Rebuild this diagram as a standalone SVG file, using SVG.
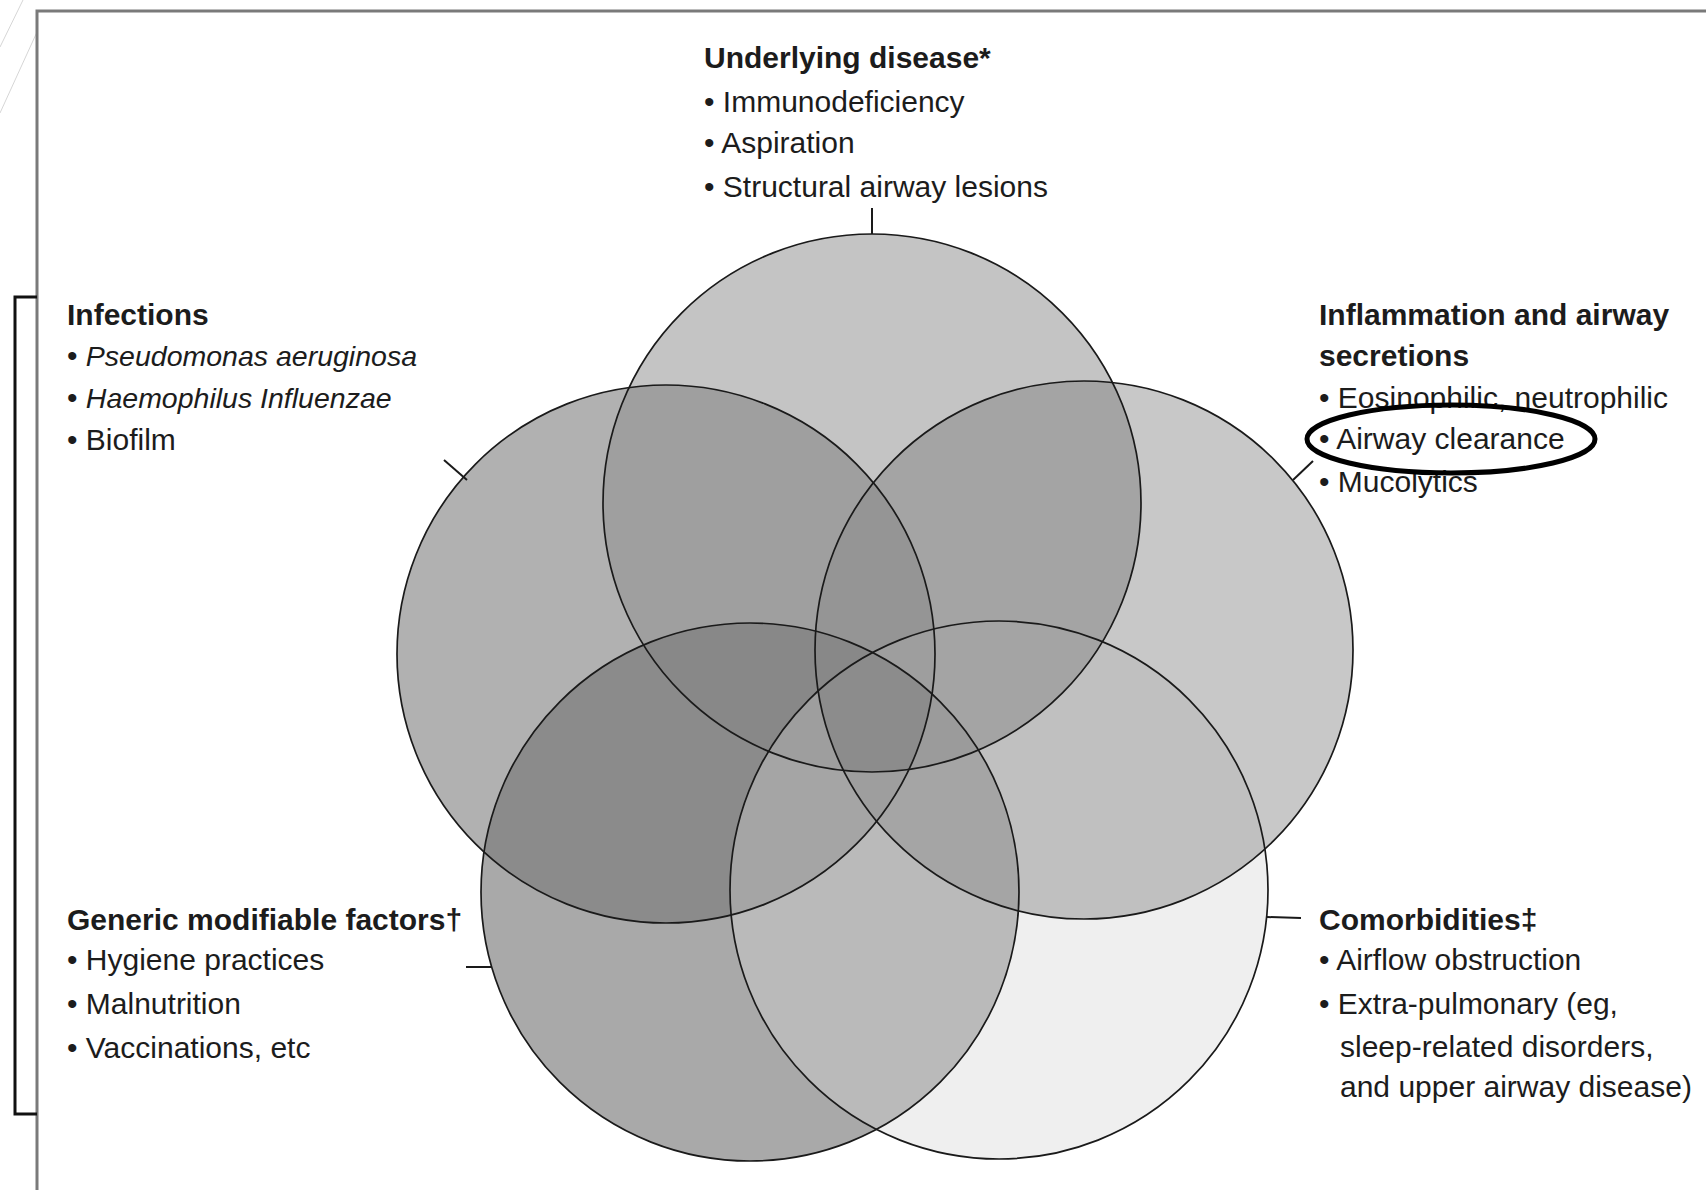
<svg xmlns="http://www.w3.org/2000/svg" width="1706" height="1190" viewBox="0 0 1706 1190">
<style>
  .lbl{font-family:"Liberation Sans",Arial,sans-serif;font-size:30px;fill:#1c1c1c}
  .hd{font-weight:bold}
  .it{font-style:italic;font-size:28.5px}
  .ring{fill:none;stroke:#1a1a1a;stroke-width:1.7}
  .tick{stroke:#1a1a1a;stroke-width:2;fill:none}
</style>
<defs>
  <circle id="A" cx="872" cy="503" r="269"/>
  <circle id="B" cx="666" cy="654" r="269"/>
  <circle id="C" cx="1084" cy="650" r="269"/>
  <circle id="D" cx="750" cy="892" r="269"/>
  <circle id="E" cx="999" cy="890" r="269"/>
  <clipPath id="cA"><use href="#A"/></clipPath>
  <clipPath id="cB"><use href="#B"/></clipPath>
  <clipPath id="cC"><use href="#C"/></clipPath>
  <clipPath id="cD"><use href="#D"/></clipPath>
  <clipPath id="cE"><use href="#E"/></clipPath>
</defs>
<rect width="1706" height="1190" fill="#ffffff"/>
<g id="background-decor" stroke="#d6d6d6" stroke-width="1" fill="none">
  <line x1="0" y1="47" x2="23" y2="0"/>
  <line x1="0" y1="113" x2="37" y2="32"/>
</g>
<g id="frame" fill="none">
  <path d="M37,1190 V11 H1706" stroke="#7a7a7a" stroke-width="3"/>
  <path d="M37,297 H15 V1114 H37" stroke="#111111" stroke-width="3"/>
</g>
<g id="regions">
  <!-- single -->
  <use href="#A" fill="#c4c4c4"/>
  <use href="#B" fill="#b1b1b1"/>
  <use href="#C" fill="#c8c8c8"/>
  <use href="#D" fill="#a9a9a9"/>
  <use href="#E" fill="#efefef"/>
  <!-- pairs -->
  <g clip-path="url(#cB)"><use href="#A" fill="#9f9f9f"/></g>
  <g clip-path="url(#cC)"><use href="#A" fill="#a4a4a4"/></g>
  <g clip-path="url(#cE)"><use href="#C" fill="#c0c0c0"/></g>
  <g clip-path="url(#cE)"><use href="#D" fill="#bababa"/></g>
  <g clip-path="url(#cD)"><use href="#B" fill="#8b8b8b"/></g>
  <!-- triples -->
  <g clip-path="url(#cB)"><g clip-path="url(#cC)"><use href="#A" fill="#959595"/></g></g>
  <g clip-path="url(#cC)"><g clip-path="url(#cE)"><use href="#A" fill="#a4a4a4"/></g></g>
  <g clip-path="url(#cC)"><g clip-path="url(#cD)"><use href="#E" fill="#a5a5a5"/></g></g>
  <g clip-path="url(#cD)"><g clip-path="url(#cE)"><use href="#B" fill="#a5a5a5"/></g></g>
  <g clip-path="url(#cB)"><g clip-path="url(#cD)"><use href="#A" fill="#888888"/></g></g>
  <!-- quadruples -->
  <g clip-path="url(#cB)"><g clip-path="url(#cC)"><g clip-path="url(#cE)"><use href="#A" fill="#9e9e9e"/></g></g></g>
  <g clip-path="url(#cC)"><g clip-path="url(#cD)"><g clip-path="url(#cE)"><use href="#A" fill="#9b9b9b"/></g></g></g>
  <g clip-path="url(#cC)"><g clip-path="url(#cD)"><g clip-path="url(#cE)"><use href="#B" fill="#9e9e9e"/></g></g></g>
  <g clip-path="url(#cB)"><g clip-path="url(#cD)"><g clip-path="url(#cE)"><use href="#A" fill="#9e9e9e"/></g></g></g>
  <g clip-path="url(#cB)"><g clip-path="url(#cC)"><g clip-path="url(#cD)"><use href="#A" fill="#888888"/></g></g></g>
  <!-- all five -->
  <g clip-path="url(#cB)"><g clip-path="url(#cC)"><g clip-path="url(#cD)"><g clip-path="url(#cE)"><use href="#A" fill="#8c8c8c"/></g></g></g></g>
</g>
<g id="node-underlying-disease">
  <use href="#A" class="ring"/>
  <text class="lbl hd" x="704" y="68">Underlying disease*</text>
  <text class="lbl" x="704" y="112">• Immunodeficiency</text>
  <text class="lbl" x="704" y="153">• Aspiration</text>
  <text class="lbl" x="704" y="197">• Structural airway lesions</text>
</g>
<g id="node-infections">
  <use href="#B" class="ring"/>
  <text class="lbl hd" x="67" y="325">Infections</text>
  <text class="lbl" x="67" y="366">• <tspan class="it">Pseudomonas aeruginosa</tspan></text>
  <text class="lbl" x="67" y="408">• <tspan class="it">Haemophilus Influenzae</tspan></text>
  <text class="lbl" x="67" y="450">• Biofilm</text>
</g>
<g id="node-inflammation">
  <use href="#C" class="ring"/>
  <text class="lbl hd" x="1319" y="325">Inflammation and airway</text>
  <text class="lbl hd" x="1319" y="366">secretions</text>
  <text class="lbl" x="1319" y="408">• Eosinophilic, neutrophilic</text>
  <text class="lbl" x="1319" y="449">• Airway clearance</text>
  <text class="lbl" x="1319" y="492">• Mucolytics</text>
  <ellipse cx="1451" cy="439" rx="144" ry="34" fill="none" stroke="#000000" stroke-width="5"/>
</g>
<g id="node-generic-factors">
  <use href="#D" class="ring"/>
  <text class="lbl hd" x="67" y="930">Generic modifiable factors†</text>
  <text class="lbl" x="67" y="970">• Hygiene practices</text>
  <text class="lbl" x="67" y="1014">• Malnutrition</text>
  <text class="lbl" x="67" y="1058">• Vaccinations, etc</text>
</g>
<g id="node-comorbidities">
  <use href="#E" class="ring"/>
  <text class="lbl hd" x="1319" y="930">Comorbidities‡</text>
  <text class="lbl" x="1319" y="970">• Airflow obstruction</text>
  <text class="lbl" x="1319" y="1014">• Extra-pulmonary (eg,</text>
  <text class="lbl" x="1340" y="1057">sleep-related disorders,</text>
  <text class="lbl" x="1340" y="1097">and upper airway disease)</text>
</g>
<g id="connectors">
  <line class="tick" x1="872" y1="208" x2="872" y2="234"/>
  <line class="tick" x1="444" y1="460" x2="467" y2="480"/>
  <line class="tick" x1="1293" y1="480" x2="1313" y2="461"/>
  <line class="tick" x1="466" y1="967" x2="492" y2="967"/>
  <line class="tick" x1="1267" y1="917" x2="1301" y2="918"/>
</g>
</svg>
